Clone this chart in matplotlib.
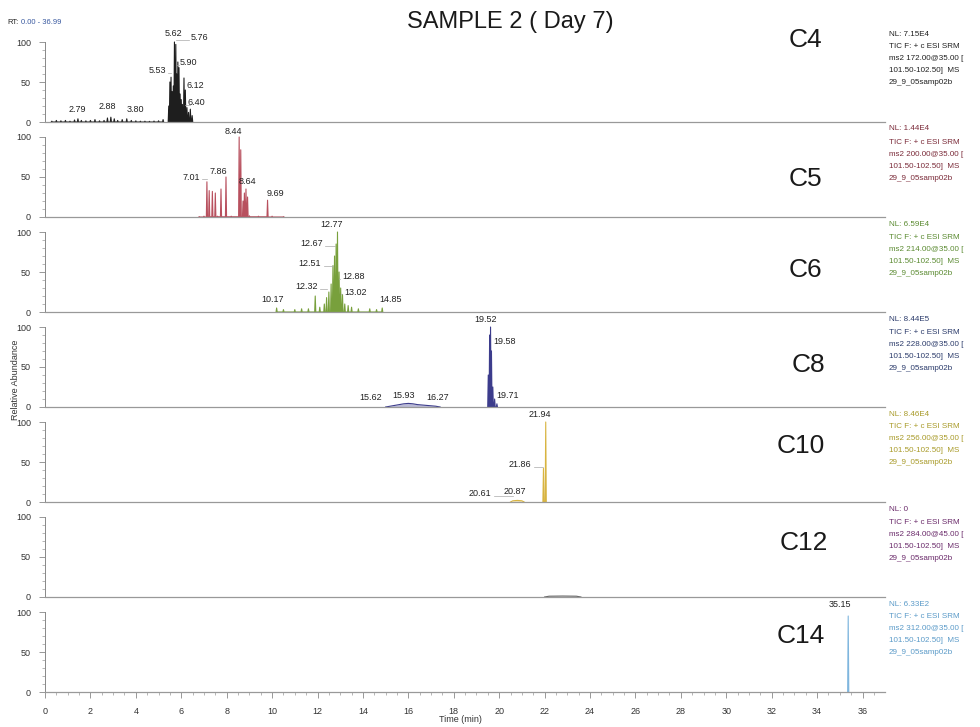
import matplotlib
matplotlib.use("Agg")
import matplotlib.pyplot as plt
from matplotlib.transforms import blended_transform_factory
from matplotlib.ticker import MultipleLocator, FixedLocator

plt.rcParams['font.family'] = ['Liberation Sans', 'DejaVu Sans']

# ---------------- data ----------------
compounds = ["C4", "C5", "C6", "C8", "C10", "C12", "C14"]
nl_values = ["7.15E4", "1.44E4", "6.59E4", "8.44E5", "8.46E4", "0", "6.33E2"]
ms2_values = ["172.00@35.00", "200.00@35.00", "214.00@35.00", "228.00@35.00",
              "256.00@35.00", "284.00@45.00", "312.00@35.00"]

# spike peaks (retention time, relative abundance)
c4_rt = [5.45, 5.50, 5.55, 5.60, 5.65, 5.70, 5.76, 5.80, 5.85, 5.90, 5.95, 6.00,
         6.05, 6.12, 6.18, 6.25, 6.32, 6.40, 6.48]
c4_h = [20, 50, 56, 38, 45, 100, 97, 60, 75, 68, 35, 28, 22, 55, 40, 18, 12, 16, 8]
c4_noise_rt = [0.3, 0.5, 0.7, 0.9, 1.1, 1.3, 1.45, 1.6, 1.8, 2.0, 2.2, 2.4, 2.6, 2.75,
               2.9, 3.05, 3.2, 3.4, 3.6, 3.8, 4.0, 4.2, 4.4, 4.6, 4.8, 5.0, 5.2]
c4_noise_h = [1, 2, 1.5, 2, 1, 2.5, 4, 2, 1.5, 2, 3, 1.5, 2, 5, 6, 4, 2, 3, 4, 2, 1.5,
              1, 1, 0.8, 1.2, 1.5, 3]

c5_rt = [7.13, 7.23, 7.37, 7.50, 7.75, 7.97, 8.55, 8.62, 8.72, 8.78, 8.85, 8.92, 9.80]
c5_h = [44, 33, 32, 30, 35, 50, 100, 84, 20, 30, 35, 25, 21]
c5_noise_rt = [6.8, 7.0, 7.6, 8.2, 9.0, 9.4, 10.0, 10.5]
c5_noise_h = [0.5, 1, 1, 1, 1.5, 1, 1, 0.5]

c6_rt = [10.2, 10.5, 11.0, 11.3, 11.6, 11.9, 12.1, 12.3, 12.4, 12.5, 12.6, 12.68,
         12.75, 12.82, 12.88, 12.95, 13.02, 13.1, 13.2, 13.35, 13.5, 13.8, 14.3,
         14.6, 14.85]
c6_h = [5, 3, 3, 4, 4, 20, 6, 10, 18, 25, 35, 58, 70, 85, 100, 50, 30, 22, 10, 8, 6,
        4, 4, 3, 5]

c8_rt = [19.52, 19.58, 19.62, 19.66, 19.72, 19.80, 19.90]
c8_h = [40, 90, 100, 70, 25, 10, 4]
c8_hump_rt = [15.0, 15.2, 15.4, 15.6, 15.8, 16.0, 16.2, 16.4, 16.6, 16.8, 17.0, 17.2, 17.4]
c8_hump_h = [0, 1, 2, 3, 4, 4.5, 4, 3, 2.5, 2, 1.5, 1, 0]

c10_rt = [21.95, 22.05]
c10_h = [42, 100]
c10_hump_rt = [20.5, 20.6, 20.8, 21.0, 21.1]
c10_hump_h = [0, 1.5, 2, 1.5, 0]

c12_hump_rt = [22.0, 22.2, 22.8, 23.4, 23.6]
c12_hump_h = [0, 1.0, 1.2, 1.0, 0]

c14_rt = [35.37]
c14_h = [95]

# peak label texts, where they appear, and the peak a leader line points to
labels = [
    [("2.79", 1.42, 16, None), ("2.88", 2.73, 19, None), ("3.80", 4.0, 16, None),
     ("5.53", 4.95, 64, 5.55), ("5.62", 5.64, 110, None), ("5.76", 6.8, 105, 5.76),
     ("5.90", 6.3, 74, 5.90), ("6.12", 6.6, 46, 6.12), ("6.40", 6.65, 24, 6.40)],
    [("7.01", 6.43, 50, 7.13), ("7.86", 7.62, 57, None), ("8.44", 8.3, 107, None),
     ("8.64", 8.9, 45, None), ("9.69", 10.13, 30, None)],
    [("12.77", 12.64, 109, None), ("12.67", 11.72, 86, 12.75), ("12.51", 11.67, 61, 12.68),
     ("12.88", 13.57, 44, 12.95), ("12.32", 11.5, 32, 12.4), ("13.02", 13.66, 25, 13.02),
     ("10.17", 10.04, 16, None), ("14.85", 15.2, 16, None)],
    [("19.52", 19.38, 109, None), ("19.58", 20.22, 82, 19.62), ("19.71", 20.35, 15, 19.72),
     ("15.62", 14.32, 12.5, None), ("15.93", 15.8, 14, None), ("16.27", 17.27, 12.5, None)],
    [("21.94", 21.8, 109, None), ("21.86", 20.93, 47, 21.95), ("20.61", 19.16, 11, 20.6),
     ("20.87", 20.7, 12.5, None)],
    [],
    [("35.15", 35.02, 109, None)],
]

# ---------------- styles ----------------
trace_colors = ["#1e1e1e", "#b8505e", "#78a03c", "#3c3c8c", "#d8b440", "#666666", "#7fb6de"]
text_colors = ["#202020", "#7a2a38", "#5a8a30", "#2a3a6a", "#a89a28", "#6a2a6a", "#5a9ac8"]
big_label_pos = [(33.5, 103), (33.5, 47), (33.5, 52), (33.6, 52), (33.3, 70), (33.4, 67), (33.3, 70)]

W, H = 980, 727
fig = plt.figure(figsize=(W / 100, H / 100), dpi=100)

left_px, right_px = 45, 885
zero_px = [122 + 95 * i for i in range(7)]
panel_h_px = 95
ymax = 118.75


def spikes(rts, hs, w):
    xs, ys = [], []
    for r, h in sorted(zip(rts, hs)):
        xs += [r - w, r, r + w]
        ys += [0, h, 0]
    return xs, ys


spike_data = [
    [(c4_rt, c4_h), (c4_noise_rt, c4_noise_h)],
    [(c5_rt, c5_h), (c5_noise_rt, c5_noise_h)],
    [(c6_rt, c6_h)],
    [(c8_rt, c8_h)],
    [(c10_rt, c10_h)],
    [],
    [(c14_rt, c14_h)],
]
hump_data = [[], [], [], [(c8_hump_rt, c8_hump_h)], [(c10_hump_rt, c10_hump_h)],
             [(c12_hump_rt, c12_hump_h)], []]

axes = []
for i in range(7):
    b = 1 - zero_px[i] / H
    ax = fig.add_axes([left_px / W, b, (right_px - left_px) / W, panel_h_px / H])
    axes.append(ax)
    ax.set_xlim(0, 36.99)
    ax.set_ylim(0, ymax)
    ax.patch.set_alpha(0)
    for s in ["top", "right"]:
        ax.spines[s].set_visible(False)
    ax.spines["left"].set_bounds(0, 100)
    ax.spines["left"].set_color("#888888")
    ax.spines["left"].set_linewidth(0.7)
    ax.spines["bottom"].set_color("#999999")
    ax.spines["bottom"].set_linewidth(0.9)
    ax.set_yticks([0, 50, 100])
    ax.yaxis.set_minor_locator(FixedLocator([10, 20, 30, 40, 60, 70, 80, 90]))
    ax.tick_params(axis="y", which="major", labelsize=6.5, length=4, width=0.6,
                   color="#888888", labelcolor="#333333", pad=6)
    ax.tick_params(axis="y", which="minor", length=2, width=0.5, color="#999999")
    if i < 6:
        ax.set_xticks([])
        ax.tick_params(axis="x", which="both", length=0)
    else:
        ax.set_xticks(range(0, 37, 2))
        ax.xaxis.set_minor_locator(MultipleLocator(0.5))
        ax.tick_params(axis="x", which="major", labelsize=6.5, length=4, width=0.6,
                       color="#888888", labelcolor="#333333", pad=7)
        ax.tick_params(axis="x", which="minor", length=2.5, width=0.5, color="#999999")

    col = trace_colors[i]
    for rts, hs in spike_data[i]:
        xs, ys = spikes(rts, hs, 0.025)
        ax.plot(xs, ys, color=col, lw=0.8, clip_on=False)
    for rts, hs in hump_data[i]:
        ax.plot(rts, hs, color=col, lw=0.8)
        ax.fill_between(rts, hs, 0, color=col, alpha=0.35, lw=0)

    for txt, lx, ly, target in labels[i]:
        ax.text(lx, ly, txt, fontsize=6.5, color="#222222", ha="center", va="center")
        if target is not None:
            half = 0.12 * len(txt)
            edge = lx + half if target > lx else lx - half
            ax.plot([edge, target], [ly - 3, ly - 3], color="#aaaaaa", lw=0.5)

    bx, by = big_label_pos[i]
    ax.text(bx, by, compounds[i], fontsize=19, color="#1a1a1a", ha="center", va="center")

    tr = blended_transform_factory(fig.transFigure, ax.transData)
    tx = 889 / W
    tc = text_colors[i]
    ax.text(tx, 110, "NL: " + nl_values[i], transform=tr, fontsize=5.8, color=tc,
            va="center", ha="left", clip_on=False)
    lines = ["TIC F: + c ESI SRM", "ms2 " + ms2_values[i] + " [",
             "101.50-102.50]  MS", "29_9_05samp02b"]
    for k, ln in enumerate(lines):
        ax.text(tx, 110 - (13 + 12 * k) / 0.8, ln, transform=tr, fontsize=5.8,
                color=tc, va="center", ha="left", clip_on=False)

fig.text(510 / W, 1 - 22 / H, "SAMPLE 2 ( Day 7)", fontsize=17, ha="center",
         va="center", color="#1a1a1a")
fig.text(7 / W, 1 - 22 / H, "RT:", fontsize=5.5, ha="left", va="center", color="#222222")
fig.text(21 / W, 1 - 22 / H, "0.00 - 36.99", fontsize=5.5, ha="left", va="center",
         color="#3a5aa0")
fig.text(15 / W, 1 - 380 / H, "Relative Abundance", fontsize=6.5, rotation=90,
         ha="center", va="center", color="#333333")
fig.text(460 / W, 1 - 720 / H, "Time (min)", fontsize=6.5, ha="center", va="center",
         color="#333333")

fig.savefig("out.png", dpi=100, facecolor="white")
